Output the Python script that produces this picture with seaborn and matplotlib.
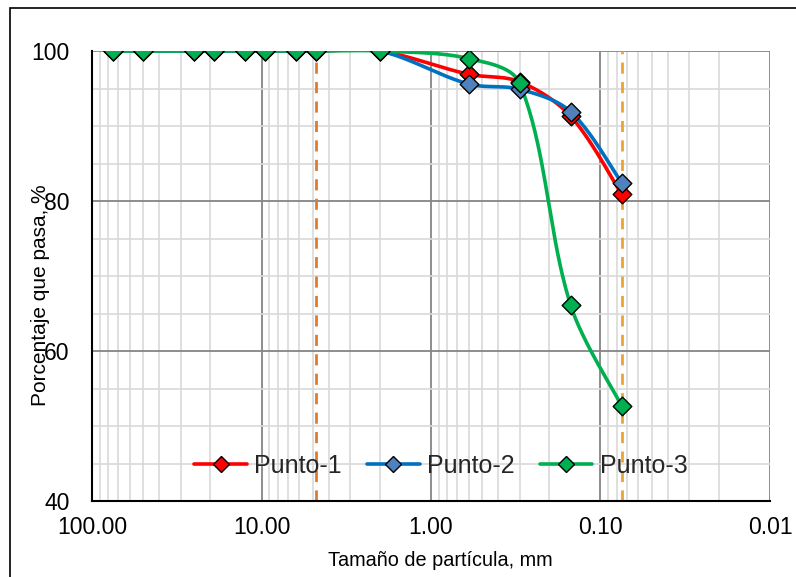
import numpy as np
import pandas as pd
import matplotlib
matplotlib.use("Agg")
import matplotlib.pyplot as plt
from matplotlib.lines import Line2D
from matplotlib.patches import Rectangle
from matplotlib.ticker import FixedLocator, FixedFormatter, NullFormatter
import seaborn as sns

# ---------------- data ----------------
sizes_mm = [75, 50, 25, 19, 12.5, 9.5, 6.3, 4.75, 2.0, 0.6, 0.3, 0.15, 0.075]
punto_1 = [100, 100, 100, 100, 100, 100, 100, 100, 100, 96.9, 95.9, 91.3, 80.9]
punto_2 = [100, 100, 100, 100, 100, 100, 100, 100, 100, 95.6, 94.9, 91.9, 82.4]
punto_3 = [100, 100, 100, 100, 100, 100, 100, 100, 100, 99.0, 95.7, 66.1, 52.7]
series_names = ["Punto-1", "Punto-2", "Punto-3"]
ref_sizes = [4.75, 0.075]
x_ticks = [100, 10, 1, 0.1, 0.01]
x_tick_labels = ["100.00", "10.00", "1.00", "0.10", "0.01"]
y_ticks = [40, 60, 80, 100]

line_colors = ["#FF0000", "#0070C0", "#00B050"]
marker_colors = ["#FF0000", "#4F81BD", "#00B050"]
ref_colors = ["#E07B2E", "#EBA434"]

# axes geometry (pixels) used for screen-space smoothing
AX_W, AX_H = 678, 450
PX_DECADE = AX_W / 4.0
PX_PCT = AX_H / 60.0

# ---------------- helpers ----------------
def smooth_curve(x, y, n=40):
    """Excel-like smoothed line: Bezier segments with tangents scaled by
    neighbouring segment lengths, computed in screen space."""
    u = np.log10(np.asarray(x, float)) * PX_DECADE
    v = np.asarray(y, float) * PX_PCT
    P = np.column_stack([u, v])
    m = len(P)
    t = np.linspace(0, 1, n)
    out = []
    for i in range(m - 1):
        p1, p2 = P[i], P[i + 1]
        d12 = np.linalg.norm(p2 - p1)
        # outgoing control from p1
        if i > 0:
            p0 = P[i - 1]
            d01 = np.linalg.norm(p1 - p0)
            T = p2 - p0
            c1 = p1 + T * (d12 / (d01 + d12 + 1e-12)) / 3.0
        else:
            c1 = p1 + (p2 - p1) / 6.0
        # incoming control to p2
        if i + 2 < m:
            p3 = P[i + 2]
            d23 = np.linalg.norm(p3 - p2)
            T = p3 - p1
            c2 = p2 - T * (d12 / (d12 + d23 + 1e-12)) / 3.0
        else:
            c2 = p2 - (p2 - p1) / 6.0
        b = ((1 - t) ** 3)[:, None] * p1 + (3 * (1 - t) ** 2 * t)[:, None] * c1 \
            + (3 * (1 - t) * t ** 2)[:, None] * c2 + (t ** 3)[:, None] * p2
        out.append(b if i == 0 else b[1:])
    out = np.vstack(out)
    return 10 ** (out[:, 0] / PX_DECADE), out[:, 1] / PX_PCT

# ---------------- figure ----------------
sns.set_theme(style="white")
plt.rcParams["font.family"] = ["Liberation Sans", "DejaVu Sans"]

fig = plt.figure(figsize=(7.96, 5.77), dpi=100)
ax = fig.add_axes([92 / 796, 76 / 577, AX_W / 796, AX_H / 577])

df = pd.DataFrame({
    "size": sizes_mm * 3,
    "pct": punto_1 + punto_2 + punto_3,
    "serie": [series_names[0]] * len(sizes_mm) + [series_names[1]] * len(sizes_mm)
             + [series_names[2]] * len(sizes_mm),
})

ax.set_xscale("log")
ax.set_xlim(100, 0.01)
ax.set_ylim(40, 100)

# grid
ax.xaxis.set_major_locator(FixedLocator(x_ticks))
ax.xaxis.set_major_formatter(FixedFormatter(x_tick_labels))
minor_x = [m * 10.0 ** e for e in range(-2, 2) for m in range(2, 10)]
ax.xaxis.set_minor_locator(FixedLocator(minor_x))
ax.xaxis.set_minor_formatter(NullFormatter())
ax.yaxis.set_major_locator(FixedLocator(y_ticks))
ax.yaxis.set_minor_locator(FixedLocator(list(range(45, 100, 5))))
ax.grid(which="minor", color="#D9D9D9", lw=1.2, zorder=0)
ax.grid(which="major", color="#858585", lw=1.3, zorder=0.5)
ax.set_axisbelow(True)

for s in ["top", "right"]:
    ax.spines[s].set_visible(False)
for s in ["left", "bottom"]:
    ax.spines[s].set_color("black")
    ax.spines[s].set_linewidth(1.5)

ax.tick_params(axis="both", which="both", length=0)
ax.tick_params(axis="y", labelsize=16.5, pad=16, colors="black")
ax.tick_params(axis="x", labelsize=16.5, pad=11, colors="black")

# reference dashed lines
for xv, c in zip(ref_sizes, ref_colors):
    ax.axvline(xv, color=c, lw=2, dashes=(4, 3), zorder=2)

# smoothed lines + markers
for name, lc, mc in zip(series_names, line_colors, marker_colors):
    sub = df[df["serie"] == name]
    xs, ys = smooth_curve(sub["size"].values, sub["pct"].values)
    ax.plot(xs, ys, color=lc, lw=2.6, zorder=3, solid_capstyle="round")
    sns.scatterplot(data=sub, x="size", y="pct", ax=ax, marker="D", s=90,
                    color=mc, edgecolor="black", linewidth=1.0, zorder=4,
                    legend=False)

ax.set_xlabel("Tamaño de partícula, mm", fontsize=14.3, color="black")
ax.set_ylabel("Porcentaje que pasa, %", fontsize=15, color="black")
ax.xaxis.set_label_coords((440 - 92) / AX_W, -(561 - 501) / AX_H)
ax.yaxis.set_label_coords((40 - 92) / AX_W, (501 - 295) / AX_H)
ax.xaxis.label.set_va("center")
ax.yaxis.label.set_va("center")

handles = [Line2D([0], [0], color=lc, lw=2.6, marker="D", markersize=8,
                  markerfacecolor=mc, markeredgecolor="black", markeredgewidth=1.0)
           for lc, mc in zip(line_colors, marker_colors)]
ax.legend(handles, series_names, loc="center",
          bbox_to_anchor=((441 - 92) / AX_W, (501 - 466) / AX_H),
          ncol=3, frameon=False, fontsize=18, handlelength=2.1, handletextpad=0.3,
          columnspacing=1.0, borderpad=0, borderaxespad=0)

# outer chart border (extends beyond right/bottom)
fig.patches.append(Rectangle((10 / 796, -0.05), 1.1, 1 - 8 / 577 + 0.05,
                             transform=fig.transFigure, fill=False,
                             edgecolor="black", lw=1.2, zorder=10))

fig.savefig("out.png", dpi=100)
